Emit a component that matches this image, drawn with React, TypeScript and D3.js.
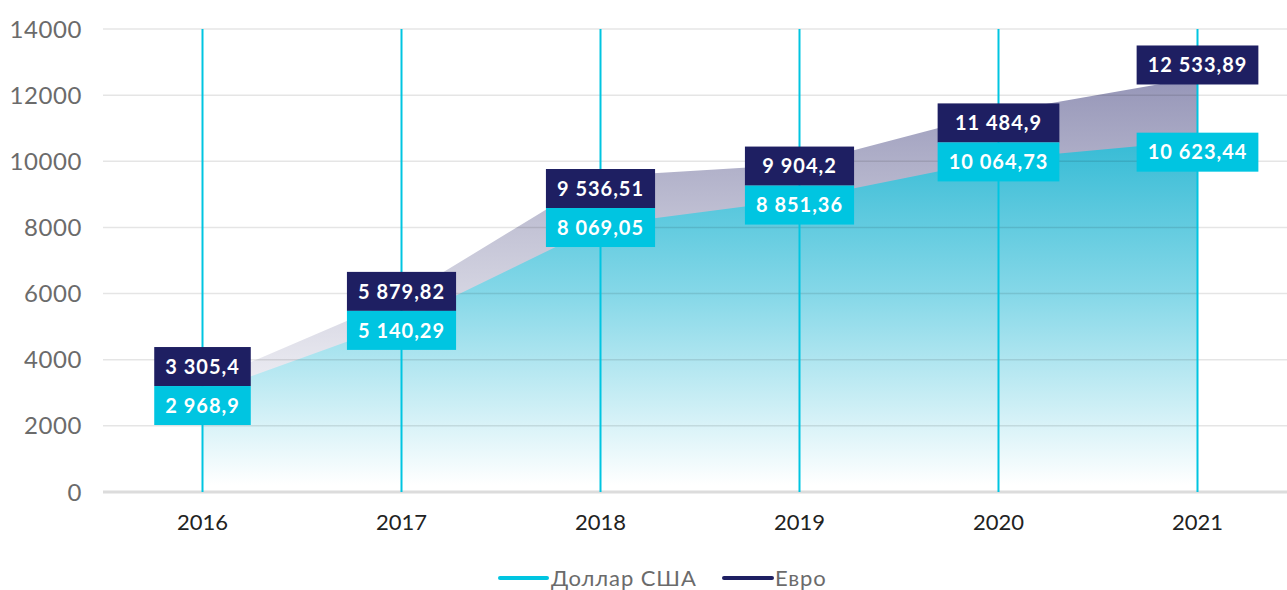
import React from "react";
import * as d3 from "d3";

const years = ["2016", "2017", "2018", "2019", "2020", "2021"];
const usd = [2968.9, 5140.29, 8069.05, 8851.36, 10064.73, 10623.44];
const eur = [3305.4, 5879.82, 9536.51, 9904.2, 11484.9, 12533.89];
const usdLabels = ["2 968,9", "5 140,29", "8 069,05", "8 851,36", "10 064,73", "10 623,44"];
const eurLabels = ["3 305,4", "5 879,82", "9 536,51", "9 904,2", "11 484,9", "12 533,89"];
const yTicks = [0, 2000, 4000, 6000, 8000, 10000, 12000, 14000];
const legendItems = ["Доллар США", "Евро"];

const W = 1287;
const H = 590;
const TEAL = "#00c5e1";
const NAVY = "#1e1f62";
const BOXFONT = "700 20px Lato";
const BOXLS = 1;

let ctx: CanvasRenderingContext2D | null = null;
function measure(t: string, font: string, ls = 0) {
  if (!ctx) ctx = document.createElement("canvas").getContext("2d");
  if (!ctx) return t.length * 10;
  ctx.font = font;
  return ctx.measureText(t).width + ls * t.length;
}

export default function App() {
  const x = d3.scaleBand<string>().domain(years).range([103, 103 + 6 * 199]);
  const cx = (d: string) => (x(d) as number) + x.bandwidth() / 2;
  const y = d3.scaleLinear().domain([0, 14000]).range([492, 29]);

  const areaUsd = d3
    .area<number>()
    .x((_, i) => cx(years[i]))
    .y0(y(0))
    .y1((d) => y(d));
  const areaEur = d3
    .area<number>()
    .x((_, i) => cx(years[i]))
    .y0(y(0))
    .y1((d) => y(d));

  const boxH = 39;
  const boxes = years.map((yr, i) => {
    const ye = y(eur[i]);
    const yu = y(usd[i]);
    const we = measure(eurLabels[i], BOXFONT, BOXLS) + 22;
    const wu = measure(usdLabels[i], BOXFONT, BOXLS) + 22;
    if (yu - ye > 55) {
      return { x: cx(yr), eTop: ye + 7 - boxH, uTop: yu - 8, we, wu };
    }
    const b = (yu - 14 + (ye + yu) / 2 + 4) / 2;
    const w = Math.max(we, wu);
    return { x: cx(yr), eTop: b - boxH, uTop: b, we: w, wu: w };
  });

  return (
    <svg
      width={W}
      height={H}
      style={{ position: "absolute", left: 0, top: 0, background: "#fff" }}
      fontFamily="Lato, 'Open Sans', sans-serif"
    >
      <defs>
        <linearGradient id="gEur" gradientUnits="userSpaceOnUse" x1="0" y1="78" x2="0" y2="420">
          <stop offset="0" stopColor="#9696b8" />
          <stop offset="0.45" stopColor="#c4c4d6" />
          <stop offset="1" stopColor="#f6f6f9" />
        </linearGradient>
        <linearGradient id="gUsd" gradientUnits="userSpaceOnUse" x1="0" y1="140" x2="0" y2="485">
          <stop offset="0" stopColor="#36bbd5" />
          <stop offset="0.45" stopColor="#86d8e8" />
          <stop offset="1" stopColor="#ffffff" />
        </linearGradient>
      </defs>

      <path d={areaEur(eur) || ""} fill="url(#gEur)" />
      <path d={areaUsd(usd) || ""} fill="url(#gUsd)" />

      {yTicks.map((t) =>
        t === 0 ? null : (
          <line key={t} x1={103} x2={W} y1={y(t)} y2={y(t)} stroke="#000" strokeOpacity={0.1} strokeWidth={1.5} />
        )
      )}
      <line x1={103} x2={W} y1={y(0)} y2={y(0)} stroke="#dcdcdc" strokeWidth={3} />

      {yTicks.map((t) => (
        <text key={t} x={82} y={y(t)} dy="0.36em" textAnchor="end" fontSize={24} letterSpacing={0.6} fill="#6b6b6b">
          {t}
        </text>
      ))}

      {years.map((yr) => (
        <line key={yr} x1={cx(yr)} x2={cx(yr)} y1={y(14000)} y2={y(0)} stroke={TEAL} strokeWidth={2} />
      ))}

      {years.map((yr) => (
        <text key={yr} x={cx(yr)} y={530} textAnchor="middle" fontSize={22} fill="#222">
          {yr}
        </text>
      ))}

      {boxes.map((b, i) => (
        <g key={years[i]}>
          <rect x={b.x - b.we / 2} y={b.eTop} width={b.we} height={boxH} fill={NAVY} />
          <text
            x={b.x}
            y={b.eTop + boxH / 2}
            dy="0.36em"
            textAnchor="middle"
            fill="#fff"
            fontSize={20}
            fontWeight={700}
            letterSpacing={BOXLS}
          >
            {eurLabels[i]}
          </text>
          <rect x={b.x - b.wu / 2} y={b.uTop} width={b.wu} height={boxH} fill={TEAL} />
          <text
            x={b.x}
            y={b.uTop + boxH / 2}
            dy="0.36em"
            textAnchor="middle"
            fill="#fff"
            fontSize={20}
            fontWeight={700}
            letterSpacing={BOXLS}
          >
            {usdLabels[i]}
          </text>
        </g>
      ))}

      <g>
        <line x1={500} x2={547} y1={578} y2={578} stroke={TEAL} strokeWidth={4} strokeLinecap="round" />
        <text x={551} y={578} dy="0.36em" fontSize={22} letterSpacing={0.9} fill="#6b6b6b">
          {legendItems[0]}
        </text>
        <line x1={724} x2={772} y1={578} y2={578} stroke={NAVY} strokeWidth={4} strokeLinecap="round" />
        <text x={775} y={578} dy="0.36em" fontSize={22} letterSpacing={0.9} fill="#6b6b6b">
          {legendItems[1]}
        </text>
      </g>
    </svg>
  );
}
